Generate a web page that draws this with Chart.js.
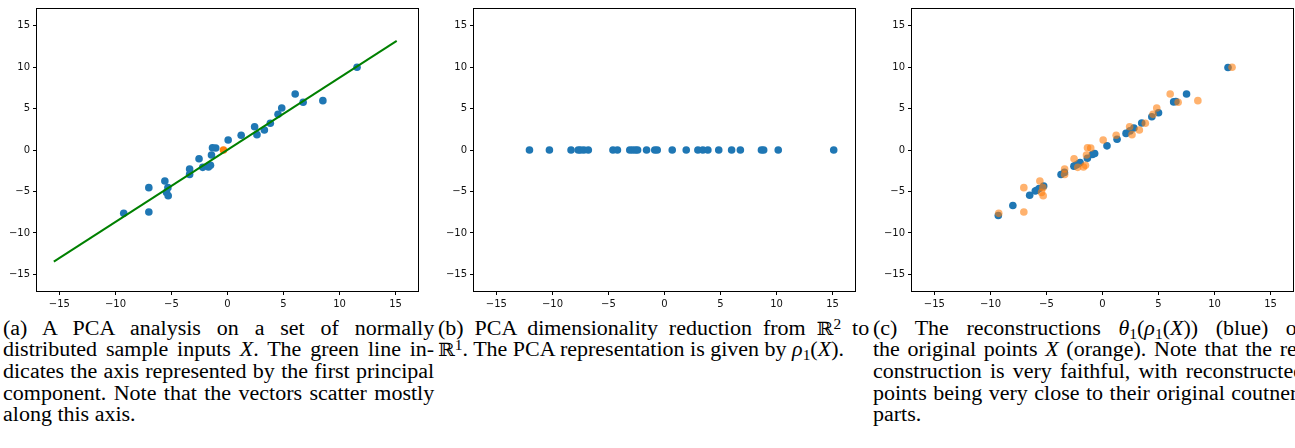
<!DOCTYPE html>
<html>
<head>
<meta charset="utf-8">
<script src="https://cdn.jsdelivr.net/npm/chart.js@4.4.0/dist/chart.umd.min.js"></script>
<style>
  body { margin: 0; width: 1295px; height: 448px; overflow: hidden; background: #fff; position: relative; }
  canvas { position: absolute; top: 0; }
  .cap {
    position: absolute; top: 317.5px; width: 392px;
    transform: scaleX(1.1); transform-origin: 0 0;
    font-family: "Liberation Serif", "Times New Roman", serif;
    font-size: 20px; line-height: 21.7px; color: #000;
  }
  .cap div { height: 21.7px; }
  .cap .j { text-align: justify; text-align-last: justify; }
  .cap sub { font-size: 0.7em; vertical-align: -0.25em; line-height: 0; }
  .cap sup { font-size: 0.7em; vertical-align: 0.45em; line-height: 0; }
  .bb { font-family: "DejaVu Serif", serif; font-size: 0.92em; }
</style>
</head>
<body>
<canvas id="chartA" width="428" height="312" style="left:0px"></canvas>
<canvas id="chartB" width="428" height="312" style="left:437px"></canvas>
<canvas id="chartC" width="428" height="312" style="left:875px"></canvas>

<div class="cap" style="left:3px">
  <div class="j">(a) A PCA analysis on a set of normally</div>
  <div class="j">distributed sample inputs <i>X</i>. The green line in-</div>
  <div class="j">dicates the axis represented by the first principal</div>
  <div class="j">component. Note that the vectors scatter mostly</div>
  <div>along this axis.</div>
</div>
<div class="cap" style="left:438px">
  <div class="j">(b) PCA dimensionality reduction from <span class="bb">ℝ</span><sup>2</sup> to</div>
  <div><span class="bb">ℝ</span><sup>1</sup>. The PCA representation is given by <i>ρ</i><sub>1</sub>(<i>X</i>).</div>
</div>
<div class="cap" style="left:873px">
  <div class="j">(c) The reconstructions <i>θ</i><sub>1</sub>(<i>ρ</i><sub>1</sub>(<i>X</i>)) (blue) of</div>
  <div class="j">the original points <i>X</i> (orange). Note that the re-</div>
  <div class="j">construction is very faithful, with reconstructed</div>
  <div class="j">points being very close to their original coutner-</div>
  <div>parts.</div>
</div>

<script>
// original sample points X
const origX = [11.56, 6.04, 6.75, 8.51, 4.84, 4.51, 3.82, 3.29, 2.42, 2.63, 1.22, 0.06, -1.05, -1.34,
  -1.43, -2.54, -2.21, -1.70, -1.52, -3.38, -3.38, -5.59, -5.32, -5.44, -5.29, -7.02, -7.02, -9.26];
const origY = [9.97, 6.76, 5.75, 5.95, 5.07, 4.30, 3.22, 2.41, 2.81, 1.85, 1.77, 1.21, 0.24, 0.28,
  -0.60, -1.05, -2.09, -2.05, -1.85, -2.29, -2.94, -3.74, -4.54, -5.11, -5.51, -4.54, -7.48, -7.64];

// mean (orange dot in panel a) and first principal axis
const meanX = [-0.36];
const meanY = [0.0];
const axisX = [-15.5, 15.1];
const axisY = [-13.45, 13.15];

// 1-D PCA representation
const projX = [-12.05, -10.27, -8.34, -7.7, -7.5, -7.2, -6.8, -4.6, -4.2, -3.1, -2.85, -2.6, -2.4, -1.6,
  -0.87, -0.65, 0.69, 1.94, 2.98, 3.42, 3.87, 4.84, 5.99, 6.77, 8.65, 8.85, 10.15, 15.1];

// reconstructions
const recX = [-9.3, -8.0, -6.5, -6.0, -5.85, -5.65, -5.25, -3.7, -3.4, -2.55, -2.35, -2.15, -2.0, -1.35,
  -0.9, -0.7, 0.4, 1.3, 2.1, 2.45, 2.8, 3.5, 4.4, 5.0, 6.35, 6.55, 7.5, 11.2];
const recY = [-7.9, -6.7, -5.45, -4.95, -4.85, -4.65, -4.35, -2.95, -2.7, -1.95, -1.8, -1.65, -1.5, -1.0,
  -0.55, -0.42, 0.5, 1.3, 2.0, 2.3, 2.65, 3.25, 4.0, 4.5, 5.8, 5.85, 6.75, 9.95];

const tickVals = [-15, -10, -5, 0, 5, 10, 15];
const axisMin = -17, axisMax = 17;

const blue = '#1f77b4';
const orange = '#ff7f0e';

function pts(xs, ys) {
  return xs.map((x, i) => ({ x: x, y: ys ? ys[i] : 0 }));
}

function makeScale(which) {
  return {
    type: 'linear',
    min: axisMin,
    max: axisMax,
    afterBuildTicks: s => { s.ticks = tickVals.map(v => ({ value: v })); },
    afterFit: s => {
      if (which === 'x') s.height = 21; else s.width = 37;
    },
    grid: { display: true, drawOnChartArea: false, drawTicks: true, tickLength: 4, color: '#000', lineWidth: 1 },
    border: { display: false },
    ticks: {
      color: '#111',
      autoSkip: false,
      maxRotation: 0,
      padding: 3,
      font: { family: 'DejaVu Sans', size: 10 },
      callback: v => String(v).replace('-', '\u2212')
    }
  };
}

const frame = {
  id: 'frame',
  afterDraw(chart) {
    const a = chart.chartArea;
    const ctx = chart.ctx;
    ctx.save();
    ctx.strokeStyle = '#000';
    ctx.lineWidth = 1;
    ctx.strokeRect(Math.round(a.left) - 0.5, Math.round(a.top) - 0.5,
      Math.round(a.right - a.left) + 1, Math.round(a.bottom - a.top) + 1);
    ctx.restore();
  }
};

function makeChart(id, datasets) {
  return new Chart(document.getElementById(id), {
    type: 'scatter',
    data: { datasets: datasets },
    options: {
      responsive: false,
      animation: false,
      devicePixelRatio: 1,
      layout: { padding: { top: 9, right: 10, left: 0, bottom: 0 } },
      plugins: { legend: { display: false }, tooltip: { enabled: false } },
      scales: { x: makeScale('x'), y: makeScale('y') }
    },
    plugins: [frame]
  });
}

const dot = { pointRadius: 3.8, pointBorderWidth: 0, pointHoverRadius: 3.8 };

makeChart('chartA', [
  { data: pts(axisX, axisY), showLine: true, borderColor: '#008000', borderWidth: 2, pointRadius: 0, order: 1 },
  Object.assign({ data: pts(meanX, meanY), backgroundColor: orange, order: 2 }, dot),
  Object.assign({ data: pts(origX, origY), backgroundColor: blue, order: 3 }, dot)
]);

makeChart('chartB', [
  Object.assign({ data: pts(projX), backgroundColor: blue, order: 1 }, dot)
]);

makeChart('chartC', [
  Object.assign({ data: pts(origX, origY), backgroundColor: 'rgba(255,127,14,0.6)', order: 1 }, dot),
  Object.assign({ data: pts(recX, recY), backgroundColor: blue, order: 2 }, dot)
]);
</script>
</body>
</html>
